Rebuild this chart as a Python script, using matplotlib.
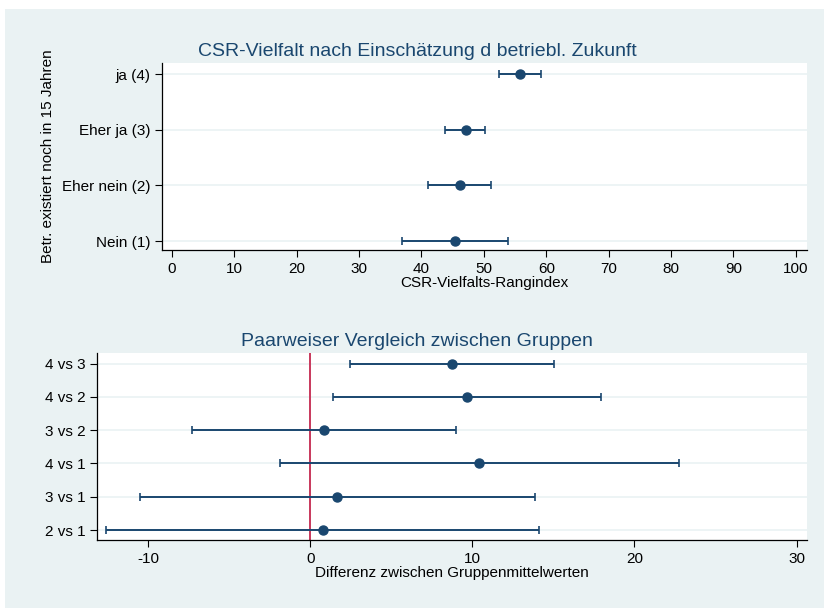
import matplotlib
matplotlib.use('Agg')
from matplotlib import pyplot as plt
from matplotlib.patches import Rectangle

plt.rcParams['font.family'] = ['Liberation Sans', 'DejaVu Sans']
plt.rcParams['axes.unicode_minus'] = False

# top panel: group means with CI
groups = ['Nein (1)', 'Eher nein (2)', 'Eher ja (3)', 'ja (4)']
means = [45.4, 46.1, 47.1, 55.8]
lo = [36.9, 41.1, 43.8, 52.5]
hi = [53.8, 51.2, 50.2, 59.2]

# bottom panel: pairwise differences with CI
pairs = ['2 vs 1', '3 vs 1', '4 vs 1', '3 vs 2', '4 vs 2', '4 vs 3']
diffs = [0.76, 1.68, 10.44, 0.88, 9.66, 8.75]
dlo = [-12.58, -10.5, -1.85, -7.26, 1.40, 2.47]
dhi = [14.08, 13.87, 22.73, 8.98, 17.92, 15.02]

navy = '#1a476f'
bg = '#eaf2f3'
W, H = 824, 608
fs = 11

fig = plt.figure(figsize=(W / 100, H / 100), dpi=100)
fig.patches.append(Rectangle((5 / W, 0), 1 - 5 / W, 1 - 9 / H, transform=fig.transFigure,
                             facecolor=bg, edgecolor='none', zorder=-10))


def style(ax):
    ax.set_facecolor('white')
    for s in ['top', 'right']:
        ax.spines[s].set_visible(False)
    for s in ['left', 'bottom']:
        ax.spines[s].set_linewidth(0.9)
    ax.tick_params(labelsize=fs, length=5, width=0.8, colors='black')
    ax.grid(axis='y', color=bg, linewidth=1.2)
    ax.set_axisbelow(True)


def ci_plot(ax, vals, low, high, ypos):
    xerr = [[v - l for v, l in zip(vals, low)], [h - v for v, h in zip(vals, high)]]
    ax.errorbar(vals, ypos, xerr=xerr, fmt='o', color=navy, ms=6.5,
                elinewidth=1.4, capsize=3.2, capthick=1.2, zorder=3)


# top panel
ax1 = fig.add_axes([162 / W, 1 - 250 / H, (807 - 162) / W, (250 - 63) / H])
style(ax1)
y1 = list(range(1, len(groups) + 1))
ci_plot(ax1, means, lo, hi, y1)
ax1.set_yticks(y1)
ax1.set_yticklabels(groups)
ax1.set_ylim(0.84, 4.2)
ax1.set_xlim(-1.6, 101.8)
ax1.set_xticks(range(0, 101, 10))
ax1.set_xlabel('CSR-Vielfalts-Rangindex', fontsize=fs, labelpad=0)
ax1.set_ylabel('Betr. existiert noch in 15 Jahren', fontsize=fs, labelpad=5)
fig.text(417 / W, 1 - 52 / H, 'CSR-Vielfalt nach Einschätzung d betriebl. Zukunft',
         ha='center', va='center', fontsize=14, color=navy)

# bottom panel
ax2 = fig.add_axes([97 / W, 1 - 540 / H, (807 - 97) / W, (540 - 353) / H])
style(ax2)
y2 = list(range(1, len(pairs) + 1))
ax2.axvline(0, color='#c8385c', linewidth=1.4, zorder=2)
ci_plot(ax2, diffs, dlo, dhi, y2)
ax2.set_yticks(y2)
ax2.set_yticklabels(pairs)
ax2.set_ylim(0.7, 6.32)
ax2.set_xlim(-13.15, 30.64)
ax2.set_xticks([-10, 0, 10, 20, 30])
ax2.set_xlabel('Differenz zwischen Gruppenmittelwerten', fontsize=fs, labelpad=0)
fig.text(417 / W, 1 - 341 / H, 'Paarweiser Vergleich zwischen Gruppen',
         ha='center', va='center', fontsize=14, color=navy)

fig.savefig('out.png', dpi=100)
